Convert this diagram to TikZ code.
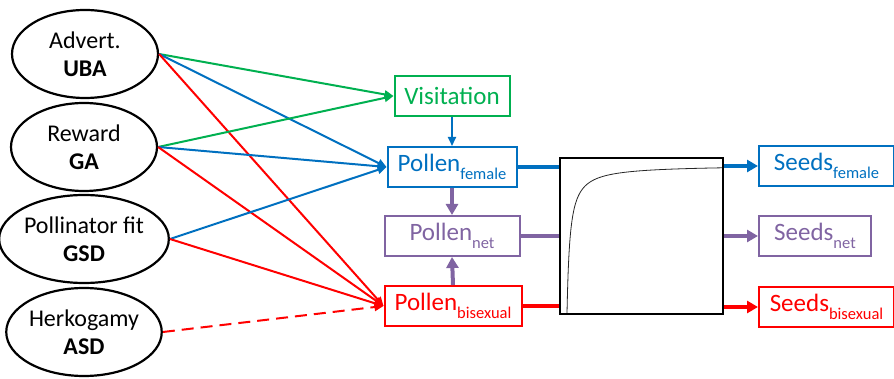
\documentclass[tikz,border=0pt]{standalone}
\usepackage{fontspec}
\setmainfont{Carlito}
\usetikzlibrary{arrows.meta,shapes.geometric}
\definecolor{cgreen}{RGB}{0,176,80}
\definecolor{cblue}{RGB}{0,112,192}
\definecolor{cpurple}{RGB}{128,100,162}
\definecolor{cred}{RGB}{255,0,0}
\newcommand{\mysub}[1]{\raisebox{-0.3em}{\fontsize{16.5}{16.5}\selectfont #1}}
\tikzset{
  factor/.style={draw=black, line width=2.2pt, ellipse, minimum width=146pt, minimum height=88pt, inner sep=0pt, align=center, font=\fontsize{24}{28}\selectfont},
  box/.style={draw=#1, text=#1, line width=2pt, rectangle, minimum height=40pt, inner sep=0pt, font=\fontsize{25}{25}\selectfont},
  thin/.style={draw=#1, line width=2pt, -{Triangle[length=9pt,width=8pt]}},
  thick/.style={draw=#1, line width=4pt, -{Triangle[length=11pt,width=12pt]}},
  thickline/.style={draw=#1, line width=4pt}
}
\begin{document}
\begin{tikzpicture}[x=1pt,y=-1pt]
\useasboundingbox (0,0) rectangle (894,379);
% factors
\node[factor] (adv) at (85,54) {Advert.\\\textbf{UBA}};
\node[factor] (rew) at (84,147) {Reward\\\textbf{GA}};
\node[factor] (pol) at (84,239) {Pollinator fit\\\textbf{GSD}};
\node[factor] (her) at (84,332) {Herkogamy\\\textbf{ASD}};
% boxes
\node[box=cgreen, minimum width=115pt] (vis) at (452,96) {Visitation};
\node[box=cblue, minimum width=129pt] (pf) at (452,167) {Pollen\mysub{female}};
\node[box=cpurple, minimum width=135pt] (pn) at (452,236) {Pollen\mysub{net}};
\node[box=cred, minimum width=137pt] (pb) at (453,306) {Pollen\mysub{bisexual}};
\node[box=cblue, minimum width=135pt, anchor=west] (sf) at (758,166) {Seeds\mysub{female}};
\node[box=cpurple, minimum width=112pt, anchor=west] (sn) at (758,236) {Seeds\mysub{net}};
\node[box=cred, minimum width=135pt, anchor=west] (sb) at (758,307) {Seeds\mysub{bisexual}};
% square
\node[draw=black, line width=2.5pt, fill=white, minimum width=163pt, minimum height=156pt, inner sep=0pt] (sq) at (641.5,236) {};
\draw[line width=0.8pt, black!85] plot[domain=0:155, samples=300] ({567+\x},{313-148*(\x/(3+\x))});
% arrows from factors
\draw[thin=cgreen] (adv.east) -- (vis.west);
\draw[thin=cblue] (adv.east) -- (pf.west);
\draw[thin=cred] (adv.east) -- (pb.west);
\draw[thin=cgreen] (rew.east) -- (vis.west);
\draw[thin=cblue] (rew.east) -- (pf.west);
\draw[thin=cred] (rew.east) -- (pb.west);
\draw[thin=cblue] (pol.east) -- (pf.west);
\draw[thin=cred] (pol.east) -- (pb.west);
\draw[thin=cred, dash pattern=on 12pt off 7pt] (her.east) -- (pb.west);
% vertical arrows
\draw[thin=cblue] (vis.south) -- (pf.north);
\draw[thick=cpurple] (pf.south) -- (pn.north);
\draw[thick=cpurple] (pb.north) -- (pn.south);
% to square
\draw[thickline=cblue] (pf.east) -- (pf.east -| sq.west);
\draw[thickline=cpurple] (pn.east) -- (pn.east -| sq.west);
\draw[thickline=cred] (pb.east) -- (pb.east -| sq.west);
\draw[thick=cblue] (sq.east |- sf.west) -- (sf.west);
\draw[thick=cpurple] (sq.east |- sn.west) -- (sn.west);
\draw[thick=cred] (sq.east |- sb.west) -- (sb.west);
\end{tikzpicture}
\end{document}
